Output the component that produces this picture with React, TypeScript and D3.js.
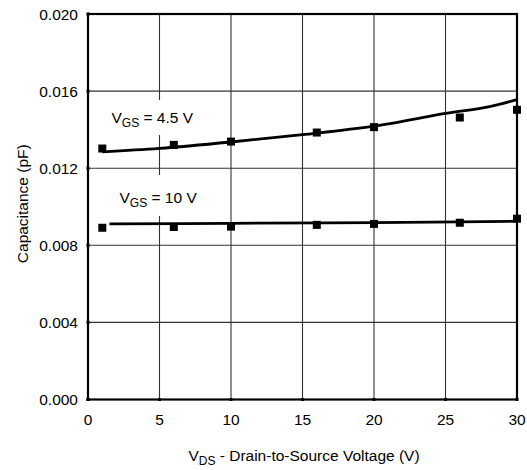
import React from "react";
import * as d3 from "d3";

const xTicks = [0, 5, 10, 15, 20, 25, 30];
const yTicks = [0, 0.004, 0.008, 0.012, 0.016, 0.02];
const yTickLabels = ["0.000", "0.004", "0.008", "0.012", "0.016", "0.020"];

const vds = [1, 6, 10, 16, 20, 26, 30];
const cap45 = [0.01302, 0.01321, 0.01338, 0.01385, 0.01413, 0.01463, 0.01503];
const cap10 = [0.00891, 0.00895, 0.00897, 0.00906, 0.00911, 0.00917, 0.00938];

const fitX45 = [1, 5, 10, 15, 20, 25, 28, 30];
const fit45 = [0.01285, 0.01303, 0.01336, 0.01374, 0.01418, 0.01484, 0.01518, 0.01556];
const fitX10 = [1.5, 10, 20, 30];
const fit10 = [0.00911, 0.00914, 0.00918, 0.00925];

const W = 527;
const H = 470;
const L = 88, R = 517, T = 14, B = 399.5;
const FONT = "'Liberation Sans', Arial, Helvetica, sans-serif";
const FS = 15.5;
const SUB = 12;

export default function App() {
  const x = d3.scaleLinear().domain([0, 30]).range([L, R]);
  const y = d3.scaleLinear().domain([0, 0.02]).range([B, T]);
  const line = d3
    .line<[number, number]>()
    .x((d) => x(d[0]))
    .y((d) => y(d[1]))
    .curve(d3.curveCatmullRom.alpha(0.5));
  const p45 = line(fitX45.map((v, i) => [v, fit45[i]] as [number, number])) || "";
  const p10 = line(fitX10.map((v, i) => [v, fit10[i]] as [number, number])) || "";
  const ms = 8;

  return (
    <svg
      width={W}
      height={H}
      style={{ position: "absolute", left: 0, top: 0, background: "#fff" }}
      fontFamily={FONT}
    >
      <rect x={0} y={0} width={W} height={H} fill="#fff" />
      {/* grid */}
      {xTicks.slice(1, -1).map((t) => (
        <line key={"gx" + t} x1={x(t)} x2={x(t)} y1={T} y2={B} stroke="#333" strokeWidth={1.1} />
      ))}
      {yTicks.slice(1, -1).map((t) => (
        <line key={"gy" + t} x1={L} x2={R} y1={y(t)} y2={y(t)} stroke="#333" strokeWidth={1.1} />
      ))}
      {/* label backgrounds */}
      <rect x={104} y={100} width={98} height={35} fill="#fff" />
      <rect x={112} y={175} width={90} height={41} fill="#fff" />
      {/* frame */}
      <rect x={L} y={T} width={R - L} height={B - T} fill="none" stroke="#000" strokeWidth={2.2} />
      {/* tick dots */}
      {xTicks.map((t) => (
        <rect key={"tx" + t} x={x(t) - 1.5} y={B - 1.5} width={3} height={3} fill="#000" />
      ))}
      {yTicks.map((t) => (
        <rect key={"ty" + t} x={L - 1.5} y={y(t) - 1.5} width={3} height={3} fill="#000" />
      ))}
      {/* tick labels */}
      {xTicks.map((t) => (
        <text key={"lx" + t} x={x(t)} y={424.5} textAnchor="middle" fontSize={FS} fill="#000">
          {t}
        </text>
      ))}
      {yTicks.map((t, i) => (
        <text key={"ly" + t} x={78} y={y(t) + 5.5} textAnchor="end" fontSize={FS} fill="#000">
          {yTickLabels[i]}
        </text>
      ))}
      {/* curves */}
      <path d={p45} fill="none" stroke="#000" strokeWidth={2.8} />
      <path d={p10} fill="none" stroke="#000" strokeWidth={2.8} />
      {vds.map((v, i) => (
        <rect key={"m45" + v} x={x(v) - ms / 2} y={y(cap45[i]) - ms / 2} width={ms} height={ms} fill="#000" />
      ))}
      {vds.map((v, i) => (
        <rect key={"m10" + v} x={x(v) - ms / 2} y={y(cap10[i]) - ms / 2} width={ms} height={ms} fill="#000" />
      ))}
      {/* annotations */}
      <text x={111.5} y={123} fontSize={FS} fill="#000">
        V<tspan fontSize={SUB} dy={4}>GS</tspan>
        <tspan dy={-4}> = 4.5 V</tspan>
      </text>
      <text x={119.5} y={203} fontSize={FS} fill="#000">
        V<tspan fontSize={SUB} dy={4}>GS</tspan>
        <tspan dy={-4}> = 10 V</tspan>
      </text>
      {/* axis titles */}
      <text x={304} y={461} textAnchor="middle" fontSize={FS} fill="#000">
        V<tspan fontSize={SUB} dy={4}>DS</tspan>
        <tspan dy={-4}> - Drain-to-Source Voltage (V)</tspan>
      </text>
      <text
        transform={`translate(27.5,${(T + B) / 2 - 3}) rotate(-90)`}
        textAnchor="middle"
        fontSize={FS}
        fill="#000"
      >
        Capacitance (pF)
      </text>
    </svg>
  );
}
